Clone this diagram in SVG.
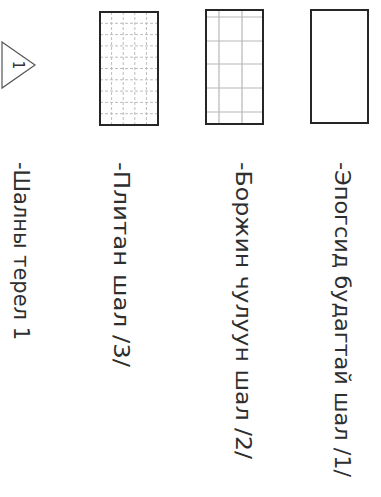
<svg xmlns="http://www.w3.org/2000/svg" width="381" height="497" viewBox="0 0 381 497">
<style>
.frame{fill:none;stroke:#262626;stroke-width:2}
.grid2{stroke:#b8b8b8;stroke-width:1.2;fill:none}
.grid3{stroke:#bdbdbd;stroke-width:1;stroke-dasharray:3 2;fill:none}
.lbl{font-family:"DejaVu Sans Condensed","DejaVu Sans",sans-serif;font-stretch:condensed;font-size:21px;fill:#2e2e2e}
.tri{fill:#fff;stroke:#555;stroke-width:1.2}
</style>
<rect width="381" height="497" fill="#fff"/>
<g id="marker-1">
  <polygon class="tri" points="2,42 35,65 2,88"/>
  <text transform="translate(13,65) rotate(90)" text-anchor="middle" font-family="DejaVu Sans Condensed, DejaVu Sans, sans-serif" font-size="15" fill="#333">1</text>
</g>
<g id="swatch-3">
  <path class="grid3" d="M111.6,12V125M123.2,12V125M134.8,12V125M146.4,12V125M100,23.3H158M100,34.6H158M100,45.9H158M100,57.2H158M100,68.5H158M100,79.8H158M100,91.1H158M100,102.4H158M100,113.7H158"/>
  <rect class="frame" x="100" y="12" width="58" height="113"/>
</g>
<g id="swatch-2">
  <path class="grid2" d="M219,10V124M242,10V124M206,17H263M206,41H263M206,64H263M206,88H263M206,112H263"/>
  <rect class="frame" x="206" y="10" width="57" height="114"/>
</g>
<g id="swatch-1">
  <rect class="frame" x="311" y="10" width="57" height="113"/>
</g>
<g id="label-1"><text class="lbl" transform="translate(335,162) rotate(90)" textLength="315" lengthAdjust="spacingAndGlyphs">-Эпогсид будагтай шал /1/</text></g>
<g id="label-2"><text class="lbl" transform="translate(236,162) rotate(90)" textLength="297" lengthAdjust="spacingAndGlyphs">-Боржин чулуун шал /2/</text></g>
<g id="label-3"><text class="lbl" transform="translate(114,162) rotate(90)" textLength="205" lengthAdjust="spacingAndGlyphs">-Плитан шал /3/</text></g>
<g id="label-4"><text class="lbl" transform="translate(14,162) rotate(90)" textLength="178" lengthAdjust="spacingAndGlyphs">-Шалны терел 1</text></g>
<g id="connectors"></g>
</svg>
